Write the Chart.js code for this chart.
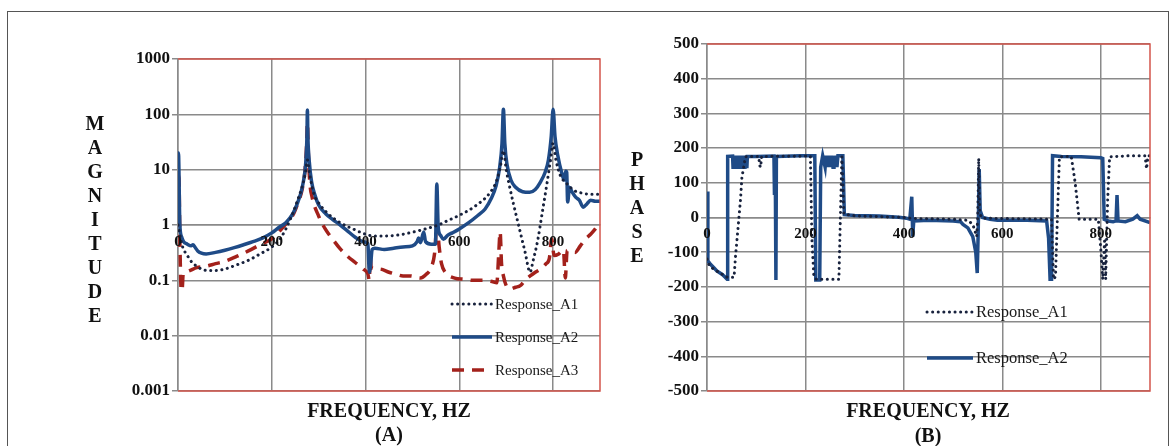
<!DOCTYPE html>
<html>
<head>
<meta charset="utf-8">
<script src="https://cdn.jsdelivr.net/npm/chart.js@4.4.1/dist/chart.umd.min.js"></script>
<style>
  body { margin: 0; background: #fff; width: 1174px; height: 446px; overflow: hidden; position: relative; font-family: "Liberation Serif", serif; }
  .frame { position: absolute; left: 7px; top: 11px; width: 1160px; height: 440px; border: 1.5px solid #555; }
  canvas { position: absolute; top: 0; }
  #chartA { left: 0; }
  #chartB { left: 610px; }
  .vtitle { position: absolute; width: 30px; text-align: center; font-weight: bold; font-size: 20px; line-height: 24px; color: #111; }
  .htitle { position: absolute; text-align: center; font-weight: bold; font-size: 20px; color: #111; white-space: nowrap; transform: translate(-50%, -50%); }
</style>
</head>
<body>
<div class="frame"></div>
<canvas id="chartA" width="610" height="446"></canvas>
<canvas id="chartB" width="564" height="446"></canvas>

<div class="vtitle" style="left:80px; top:111px;">M<br>A<br>G<br>N<br>I<br>T<br>U<br>D<br>E</div>
<div class="vtitle" style="left:622px; top:147px;">P<br>H<br>A<br>S<br>E</div>
<div class="htitle" style="left:389px; top:410px;">FREQUENCY, HZ</div>
<div class="htitle" style="left:389px; top:434px;">(A)</div>
<div class="htitle" style="left:928px; top:410px;">FREQUENCY, HZ</div>
<div class="htitle" style="left:928px; top:435px;">(B)</div>

<script>
// ---- data ----
const xTicks = [0, 200, 400, 600, 800];
const magTicks = [0.001, 0.01, 0.1, 1, 10, 100, 1000];

// (A) magnitude
const freqA1 = [0, 5, 10, 20, 30, 40, 50, 65, 80, 100, 125, 150, 175, 200, 220, 240, 255, 265, 272, 276, 280, 290, 300, 320, 346, 380, 400, 420, 440, 470, 500, 530, 555, 575, 600, 634, 666, 680, 688, 694, 700, 706, 716, 728, 740, 751, 757, 767, 777, 787, 794, 800, 806, 815, 830, 845, 860, 880, 900];
const magA1 = [1.0, 0.6, 0.4, 0.28, 0.21, 0.18, 0.16, 0.15, 0.15, 0.16, 0.19, 0.23, 0.3, 0.4, 0.6, 1.3, 2.8, 5, 9, 15, 9, 3.6, 2.5, 1.6, 1.1, 0.8, 0.68, 0.63, 0.63, 0.66, 0.74, 0.86, 1.0, 1.2, 1.5, 2.2, 3.9, 6.5, 12, 22, 10, 5.5, 2.3, 0.87, 0.33, 0.14, 0.22, 0.52, 1.7, 5.7, 14, 30, 15, 8, 5.5, 4.2, 3.8, 3.6, 3.6];

const freqA2 = [0, 1, 4, 8, 12, 20, 28, 32, 36, 42, 50, 60, 80, 100, 120, 140, 160, 180, 200, 215, 230, 245, 255, 262, 268, 272, 275, 276, 277, 280, 285, 292, 300, 315, 330, 346, 360, 378, 395, 405, 408, 411, 414, 420, 440, 460, 480, 500, 510, 513, 517, 524, 528, 540, 549, 552, 555, 560, 566, 575, 585, 600, 620, 640, 655, 668, 678, 686, 691, 694, 697, 702, 710, 720, 735, 750, 762, 772, 783, 790, 796, 800, 804, 810, 818, 824, 827, 829, 831, 835, 840, 848, 856, 864, 872, 880, 890, 900];
const magA2 = [20, 20, 1.0, 0.6, 0.5, 0.45, 0.42, 0.44, 0.4, 0.34, 0.31, 0.3, 0.32, 0.35, 0.39, 0.44, 0.5, 0.58, 0.72, 0.9, 1.1, 1.6, 2.5, 3.8, 6.5, 12, 40, 120, 40, 14, 6, 3.5, 2.3, 1.6, 1.25, 1.0, 0.8, 0.6, 0.5, 0.46, 0.14, 0.2, 0.36, 0.38, 0.36, 0.38, 0.4, 0.42, 0.5, 0.58, 0.48, 0.75, 0.5, 0.45, 0.45, 5.5, 0.9, 0.65, 0.55, 0.65, 0.72, 0.85, 1.1, 1.5, 1.95, 3, 5, 11, 30, 124, 30, 12, 6.5, 4.8, 4.0, 3.9, 4.4, 5.8, 9, 15, 40, 124, 40, 18, 9, 6.5, 9.5, 9, 2.6, 4.8, 4.0, 3.2, 2.8, 2.1, 2.4, 2.8, 2.7, 2.7];

const freqA3 = [0, 2, 4, 7, 9, 11, 15, 25, 40, 60, 80, 100, 125, 150, 175, 200, 215, 230, 245, 255, 265, 271, 274, 276, 278, 281, 286, 300, 314, 330, 346, 362, 378, 395, 405, 408, 410, 412, 430, 450, 463, 480, 495, 517, 530, 540, 548, 552, 557, 562, 570, 590, 610, 630, 650, 670, 680, 684, 687, 690, 694, 700, 709, 720, 730, 740, 751, 762, 773, 785, 792, 797, 802, 812, 822, 826, 830, 847, 858, 869, 880, 890, 900];
const magA3 = [8, 7, 0.5, 0.065, 0.07, 0.13, 0.14, 0.15, 0.17, 0.18, 0.2, 0.22, 0.27, 0.34, 0.44, 0.56, 0.75, 1.05, 1.5, 2.4, 4.5, 10, 25, 70, 20, 6, 3.2, 1.45, 0.85, 0.55, 0.37, 0.27, 0.21, 0.16, 0.13, 0.1, 0.28, 0.17, 0.16, 0.14, 0.13, 0.12, 0.12, 0.11, 0.13, 0.17, 0.35, 1.1, 0.4, 0.2, 0.14, 0.11, 0.105, 0.1, 0.1, 0.095, 0.09, 0.3, 0.75, 0.2, 0.12, 0.08, 0.07, 0.075, 0.08, 0.1, 0.12, 0.14, 0.16, 0.2, 0.25, 0.56, 0.28, 0.3, 0.35, 0.11, 0.35, 0.32, 0.42, 0.56, 0.68, 0.85, 1.1];

// (B) phase
const phaseTicks = [-500, -400, -300, -200, -100, 0, 100, 200, 300, 400, 500];

const freqB1 = [0, 5, 15, 30, 41, 55, 58, 64, 68, 71, 74, 78, 105, 107, 109, 111, 210, 213, 217, 222, 268, 271, 274, 278, 300, 400, 420, 500, 530, 540, 548, 550, 552, 554, 560, 600, 700, 704, 708, 716, 740, 748, 756, 795, 800, 804, 808, 810, 814, 818, 860, 890, 893, 896, 900];
const phaseB1 = [-120, -140, -150, -163, -172, -172, -111, -15, 50, 117, 140, 175, 176, 150, 145, 176, 177, -60, -169, -178, -178, 0, 175, 10, 5, 0, -3, -5, -8, -20, -55, 0, 170, 10, -2, -3, -5, -178, -170, 175, 176, 100, -5, -5, -90, -178, -60, -178, 50, 175, 178, 178, 140, 178, 178];

const freqB2 = [0, 1.5, 2, 7, 14, 20, 31, 37, 41, 42, 52, 53, 55, 57, 59, 61, 63, 65, 67, 69, 71, 73, 75, 77, 79, 81, 82, 100, 136, 137, 138, 139, 140, 141, 190, 219, 221, 229, 231, 235, 240, 242, 244, 246, 248, 250, 252, 254, 256, 258, 260, 262, 264, 266, 268, 276, 279, 300, 350, 390, 405, 412, 416, 418, 420, 450, 500, 515, 520, 530, 540, 546, 549, 551, 553, 555, 560, 575, 590, 650, 690, 694, 697, 700, 702, 720, 760, 800, 804, 807, 815, 825, 831, 833, 835, 850, 865, 874, 880, 900];
const phaseB2 = [75, 74, -125, -135, -145, -154, -164, -172, -178, 176, 177, 140, 178, 140, 178, 140, 178, 140, 178, 140, 178, 140, 178, 140, 178, 142, 176, 176, 177, 70, 177, 65, -180, 176, 178, 178, -180, -180, 145, 178, 145, 178, 145, 178, 145, 178, 145, 178, 145, 178, 145, 178, 145, 178, 178, 178, 8, 6, 4, 1, -2, -5, 60, -55, -10, -8, -10, -12, -20, -30, -55, -100, -160, -40, 140, 20, 0, -5, -8, -8, -10, -60, -178, -178, 178, 176, 175, 172, 170, -5, -10, -12, -10, 65, -10, -12, -5, 5, -5, -15];

// ---- styles ----
const BLUE = '#1f4b87';
const NAVY = '#18223d';
const RED = '#a3211b';
const GRID = '#8a8a8a';
const FRAME_RED = '#d4554c';

function pts(xs, ys) {
  return xs.map((x, i) => ({ x: x, y: ys[i] }));
}

const plotBorder = {
  id: 'plotBorder',
  afterDraw(chart) {
    const { ctx, chartArea: a } = chart;
    ctx.save();
    ctx.strokeStyle = FRAME_RED;
    ctx.lineWidth = 1.5;
    ctx.beginPath();
    ctx.moveTo(a.left, a.top); ctx.lineTo(a.right, a.top);
    ctx.lineTo(a.right, a.bottom); ctx.lineTo(a.left, a.bottom);
    ctx.stroke();
    ctx.restore();
  }
};

const insideLegend = {
  id: 'insideLegend',
  afterDraw(chart, args, opts) {
    const ctx = chart.ctx;
    chart.data.datasets.forEach((ds, i) => {
      const y = opts.top + i * opts.step;
      ctx.save();
      ctx.strokeStyle = ds.borderColor;
      ctx.lineWidth = ds.borderWidth;
      ctx.lineCap = ds.borderCapStyle || 'butt';
      ctx.setLineDash(ds.borderDash || []);
      ctx.beginPath();
      ctx.moveTo(opts.left, y);
      ctx.lineTo(opts.left + opts.len, y);
      ctx.stroke();
      ctx.setLineDash([]);
      ctx.fillStyle = '#1a1a1a';
      ctx.font = opts.font;
      ctx.textBaseline = 'middle';
      ctx.fillText(ds.label, opts.left + opts.len + 3, y + 1);
      ctx.restore();
    });
  }
};

function xScale(crossAt) {
  return {
    type: 'linear', min: 0, max: 900,
    position: crossAt,
    afterBuildTicks: s => { s.ticks = xTicks.map(v => ({ value: v })); },
    grid: { color: GRID, lineWidth: 1.5, drawTicks: false },
    border: { color: GRID, width: 1.5 },
    ticks: { z: 1, padding: 8, color: '#111', maxRotation: 0, font: { family: 'Liberation Serif', size: 15, weight: 'bold' } }
  };
}

const yFont = { family: 'Liberation Serif', size: 17, weight: 'bold' };

// ---- chart A: magnitude ----
new Chart(document.getElementById('chartA'), {
  type: 'line',
  data: {
    datasets: [
      { label: 'Response_A1', data: pts(freqA1, magA1), borderColor: NAVY, borderWidth: 3, borderDash: [0.1, 5.5], borderCapStyle: 'round', cubicInterpolationMode: 'monotone' },
      { label: 'Response_A2', data: pts(freqA2, magA2), borderColor: BLUE, borderWidth: 3.5, cubicInterpolationMode: 'monotone' },
      { label: 'Response_A3', data: pts(freqA3, magA3), borderColor: RED, borderWidth: 3.5, borderDash: [12, 8], cubicInterpolationMode: 'monotone' }
    ]
  },
  options: {
    responsive: false, animation: false,
    elements: { point: { radius: 0 } },
    layout: { padding: { left: 118, top: 59, right: 10, bottom: 55 } },
    scales: {
      x: xScale({ y: 1 }),
      y: {
        type: 'logarithmic', min: 0.001, max: 1000,
        afterBuildTicks: s => { s.ticks = magTicks.map(v => ({ value: v })); },
        afterFit: s => { s.width = 60; },
        grid: { color: GRID, lineWidth: 1.5, tickLength: 6 },
        border: { color: GRID, width: 1.5 },
        ticks: { padding: 2, color: '#111', font: yFont, callback: v => String(v) }
      }
    },
    plugins: {
      legend: { display: false },
      tooltip: { enabled: false },
      insideLegend: { left: 452, top: 304, step: 33, len: 40, font: '15px "Liberation Serif"' }
    }
  },
  plugins: [plotBorder, insideLegend]
});

// ---- chart B: phase ----
new Chart(document.getElementById('chartB'), {
  type: 'line',
  data: {
    datasets: [
      { label: 'Response_A1', data: pts(freqB1, phaseB1), borderColor: NAVY, borderWidth: 3, borderDash: [0.1, 5.5], borderCapStyle: 'round', tension: 0 },
      { label: 'Response_A2', data: pts(freqB2, phaseB2), borderColor: BLUE, borderWidth: 3.5, tension: 0 }
    ]
  },
  options: {
    responsive: false, animation: false,
    elements: { point: { radius: 0 } },
    layout: { padding: { left: 47, top: 44, right: 24, bottom: 55 } },
    scales: {
      x: xScale({ y: 0 }),
      y: {
        type: 'linear', min: -500, max: 500,
        afterBuildTicks: s => { s.ticks = phaseTicks.map(v => ({ value: v })); },
        afterFit: s => { s.width = 50; },
        grid: { color: GRID, lineWidth: 1.5, tickLength: 6 },
        border: { color: GRID, width: 1.5 },
        ticks: { padding: 2, color: '#111', font: yFont, callback: v => String(v) }
      }
    },
    plugins: {
      legend: { display: false },
      tooltip: { enabled: false },
      insideLegend: { left: 317, top: 312, step: 46, len: 46, font: '16.5px "Liberation Serif"' }
    }
  },
  plugins: [plotBorder, insideLegend]
});
</script>
</body>
</html>
